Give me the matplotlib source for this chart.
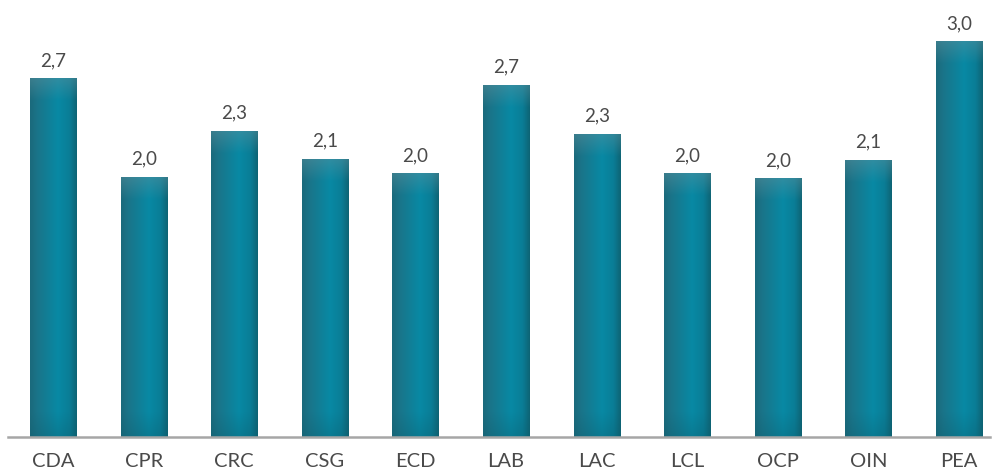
import numpy as np
import matplotlib
matplotlib.use('Agg')
import matplotlib.pyplot as plt
from matplotlib.colors import to_rgb

categories = ['CDA', 'CPR', 'CRC', 'CSG', 'ECD', 'LAB', 'LAC', 'LCL', 'OCP', 'OIN', 'PEA']
values = [2.72, 1.97, 2.32, 2.11, 2.00, 2.67, 2.30, 2.00, 1.96, 2.10, 3.00]
labels = ['2,7', '2,0', '2,3', '2,1', '2,0', '2,7', '2,3', '2,0', '2,0', '2,1', '3,0']

plt.rcParams['font.family'] = ['Lato', 'DejaVu Sans']

W, H = 992, 473
fig = plt.figure(figsize=(W / 100, H / 100), dpi=100)
ax = fig.add_axes([8 / W, 36 / H, 982 / W, 437 / H])

ymax = 437 / 131.7
ax.set_xlim(-0.497, 10.342)
ax.set_ylim(0, ymax)

# horizontal colour profile of a bar
stops = [0.0, 0.15, 0.6, 0.85, 1.0]
cols = np.array([to_rgb(c) for c in ['#1b6a7c', '#1a7489', '#0889a4', '#0a7d96', '#0e6475']])
nx, ny = 60, 400
tx = np.linspace(0, 1, nx)
row = np.stack([np.interp(tx, stops, cols[:, k]) for k in range(3)], axis=1)

bevel_col = np.array(to_rgb('#5f929e'))
bottom_col = np.array(to_rgb('#0c5a6a'))
px_per_unit = 131.7
bw = 0.508

for i, v in enumerate(values):
    img = np.repeat(row[None, :, :], ny, axis=0)
    ty = np.linspace(1, 0, ny)[:, None]  # 1 at top row
    hpx = v * px_per_unit
    # top bevel
    d_top = (1 - ty) * hpx
    a = np.clip(1 - d_top / 22, 0, 1) * 0.45
    img = img * (1 - a[..., None]) + bevel_col * a[..., None]
    # darker towards bottom
    d_bot = ty * hpx
    b = np.clip(1 - d_bot / 25, 0, 1) * 0.3
    img = img * (1 - b[..., None]) + bottom_col * b[..., None]
    ax.imshow(img, extent=(i - bw / 2, i + bw / 2, 0, v), aspect='auto',
              interpolation='bilinear', zorder=2)
    ax.annotate(labels[i], (i, v), xytext=(0, 7), textcoords='offset points',
                ha='center', va='bottom', fontsize=13.5, color='#4a4a4a')

ax.set_xlim(-0.497, 10.342)
ax.set_ylim(0, ymax)
ax.set_xticks(range(len(categories)))
ax.set_xticklabels(categories, fontsize=14.5, color='#4a4a4a')
ax.tick_params(axis='x', length=0, pad=11.5)
ax.set_yticks([])
for s in ['top', 'right', 'left']:
    ax.spines[s].set_visible(False)
ax.spines['bottom'].set_color('#a6a6a6')
ax.spines['bottom'].set_linewidth(1.8)
ax.spines['bottom'].set_zorder(3)

fig.savefig('out.png', dpi=100)
